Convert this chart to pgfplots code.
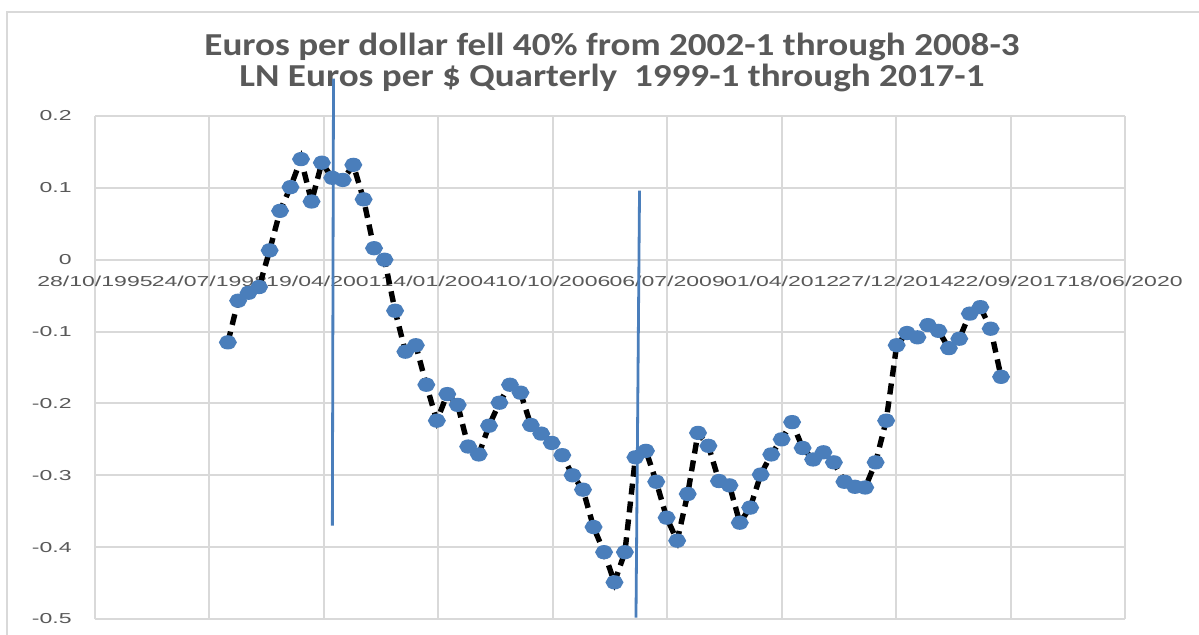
\documentclass[border=0pt]{standalone}
\usepackage{fontspec}
\setmainfont{Carlito}
\newfontfamily\titlefont[FakeStretch=1.16]{Carlito}
\newfontfamily\tickfont[FakeStretch=1.6]{Liberation Sans}
\usepackage{pgfplots}
\usepackage{pgfplotstable}
\pgfplotsset{compat=1.18}
\definecolor{gridc}{HTML}{D9D9D9}
\definecolor{txt}{HTML}{595959}
\definecolor{mk}{HTML}{4A7EBB}
\pgfplotstableread{
x y
36161 -0.115
36251 -0.057
36342 -0.046
36434 -0.038
36526 0.013
36617 0.068
36708 0.101
36800 0.140
36892 0.081
36982 0.135
37073 0.114
37165 0.111
37257 0.132
37347 0.084
37438 0.016
37530 0.000
37622 -0.071
37712 -0.128
37803 -0.119
37895 -0.174
37987 -0.224
38078 -0.187
38169 -0.202
38261 -0.260
38353 -0.271
38443 -0.231
38534 -0.199
38626 -0.174
38718 -0.185
38808 -0.230
38899 -0.242
38991 -0.255
39083 -0.272
39173 -0.300
39264 -0.320
39356 -0.372
39448 -0.407
39539 -0.449
39630 -0.407
39722 -0.275
39814 -0.266
39904 -0.309
39995 -0.359
40087 -0.391
40179 -0.326
40269 -0.241
40360 -0.259
40452 -0.308
40544 -0.314
40634 -0.366
40725 -0.345
40817 -0.299
40909 -0.271
41000 -0.250
41091 -0.226
41183 -0.262
41275 -0.278
41365 -0.268
41456 -0.282
41548 -0.309
41640 -0.316
41730 -0.317
41821 -0.282
41913 -0.224
42005 -0.119
42095 -0.102
42186 -0.108
42278 -0.091
42370 -0.099
42461 -0.123
42552 -0.110
42644 -0.075
42736 -0.066
42826 -0.096
42917 -0.163
}\eurodata
\begin{document}
\begin{tikzpicture}
\useasboundingbox (0,0) rectangle (599.5pt,317pt);
\fill[white] (0,0) rectangle (599.5pt,317pt);
\draw[gridc, line width=1pt] (3.5pt,-1pt) -- (3.5pt,311pt) -- (601pt,311pt);
\node[font=\titlefont\bfseries\fontsize{16}{16}\selectfont, text=txt, anchor=base] at (306pt,289.5pt) {Euros per dollar fell 40\% from 2002-1 through 2008-3};
\node[font=\titlefont\bfseries\fontsize{16}{16}\selectfont, text=txt, anchor=base] at (306pt,274pt) {LN Euros per \$ Quarterly\ \ 1999-1 through 2017-1};
\begin{axis}[
  at={(47.5pt,7.5pt)}, anchor=south west,
  scale only axis, width=515pt, height=251.5pt,
  xmin=35000, xmax=44000, ymin=-0.5, ymax=0.2,
  scaled x ticks=false, scaled y ticks=false,
  axis x line*=middle, axis y line*=left,
  x axis line style={-}, y axis line style={-},
  hide obscured x ticks=false, hide obscured y ticks=false,
  axis line style={gridc, line width=1pt},
  xtick={35000,36000,37000,38000,39000,40000,41000,42000,43000,44000},
  xticklabels={28/10/1995,24/07/1998,19/04/2001,14/01/2004,10/10/2006,06/07/2009,01/04/2012,27/12/2014,22/09/2017,18/06/2020},
  ytick={-0.5,-0.4,-0.3,-0.2,-0.1,0,0.1,0.2},
  yticklabels={-0.5,-0.4,-0.3,-0.2,-0.1,0,0.1,0.2},
  grid=major, major grid style={gridc, line width=1pt},
  major tick length=0pt,
  tick label style={font=\tickfont\fontsize{7.2}{8}\selectfont, text=txt},
  xticklabel style={anchor=center, inner sep=0pt, yshift=-11pt},
  yticklabel style={anchor=east, inner sep=0pt, xshift=-11.5pt},
  clip=false,
]
\addplot[black, line width=2.7pt, dash pattern=on 5.5pt off 3.5pt, mark=*, mark size=2.2pt,
  mark options={solid, fill=mk, draw=mk, xscale=1.35}] table[x=x,y=y] {\eurodata};
\addplot[mk, line width=1.4pt, no marks] coordinates {(37084,0.252) (37074,-0.370)};
\addplot[mk, line width=1.4pt, no marks] coordinates {(39758,0.096) (39727,-0.498)};
\end{axis}
\end{tikzpicture}
\end{document}
